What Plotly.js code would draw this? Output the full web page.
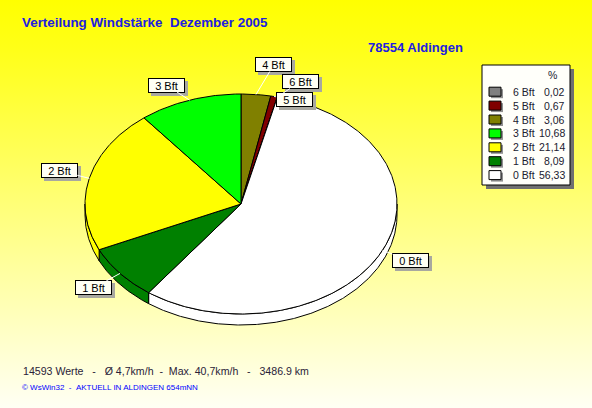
<!DOCTYPE html>
<html><head><meta charset="utf-8">
<script src="https://cdn.plot.ly/plotly-3.0.1.min.js"></script>
<style>
html,body{margin:0;padding:0;background:#fff;}
#chart{width:592px;height:408px;background:linear-gradient(to bottom,#FFFF00 0%,#FFFF18 12%,#FFFFF4 100%);}
</style></head><body><div id="chart"></div>
<script>
// ---- data ----
const categories = ['0 Bft','1 Bft','2 Bft','3 Bft','4 Bft','5 Bft','6 Bft'];
const percents = [56.33, 8.09, 21.14, 10.68, 3.06, 0.67, 0.02];
const sliceColors = ['#FFFFFF','#008000','#FFFF00','#00FF00','#808000','#800000','#808080'];
const pieOrder = [4,5,6,0,1,2,3]; // clockwise from 12 o'clock
const titleText = 'Verteilung Windstärke  Dezember 2005';
const stationText = '78554 Aldingen';
const footerLine1 = '14593 Werte   -   Ø 4,7km/h  -  Max. 40,7km/h   -   3486.9 km';
const footerLine2 = '© WsWin32  -  AKTUELL IN ALDINGEN 654mNN';
const legendHeader = '%';

// ---- layout helpers (positions/styles) ----
const W = 592, H = 408;
const FONT = 'Liberation Sans, Arial, sans-serif';
const P = x => x / W, Q = y => 1 - y / H;
const sp = s => s.replace(/ {2,}/g, m => ' ' + '\u00a0'.repeat(m.length - 1));
const RAD = Math.PI / 180;
const depth = 0.1;
// label pixel offsets from slice edge midpoint
const labelOffsets = {0:[28,10.5],1:[-26.5,14.5],2:[-30,-7.5],3:[-23.5,-15],4:[18,-30],5:[20,3],6:[23,-15.5]};

function arc(a0, a1) {
  const n = Math.max(2, Math.ceil((a1 - a0) / 0.5) + 1);
  const xs = [], ys = [];
  for (let k = 0; k < n; k++) {
    const a = a0 + (a1 - a0) * k / (n - 1);
    xs.push(Math.sin(a * RAD)); ys.push(Math.cos(a * RAD));
  }
  return [xs, ys];
}

const total = percents.reduce((a, b) => a + b, 0);
let start = 0;
const slices = [];
pieOrder.forEach(i => {
  const sweep = percents[i] / total * 360;
  slices.push({i, a0: start, a1: start + sweep});
  start += sweep;
});

const sideTraces = [], topTraces = [];
slices.forEach(s => {
  const b0 = Math.max(s.a0, 90), b1 = Math.min(s.a1, 270);
  if (b1 > b0) {
    const [xs, ys] = arc(b0, b1);
    const X = xs.concat(xs.slice().reverse());
    const Y = ys.concat(ys.slice().reverse().map(v => v - depth));
    X.push(X[0]); Y.push(Y[0]);
    sideTraces.push({type:'scatter', mode:'lines', x:X, y:Y, fill:'toself',
      fillcolor:sliceColors[s.i], line:{color:'#000', width:1}, hoverinfo:'skip', showlegend:false});
  }
  const [xs, ys] = arc(s.a0, s.a1);
  topTraces.push({type:'scatter', mode:'lines', x:[0].concat(xs, [0]), y:[0].concat(ys, [0]),
    fill:'toself', fillcolor:sliceColors[s.i], line:{color:'#000', width:1}, hoverinfo:'skip', showlegend:false});
});

const annotations = [], shapes = [];
// slice labels
const shadowAnn = [], labelAnn = [];
slices.forEach(s => {
  const mid = (s.a0 + s.a1) / 2;
  const x = Math.sin(mid * RAD), y = Math.cos(mid * RAD);
  const [ax, ay] = labelOffsets[s.i];
  const common = {x, y, xref:'x', yref:'y', width:33, height:11, borderpad:1, borderwidth:1,
    font:{family:FONT, size:11, color:'#000'}, align:'center', valign:'middle'};
  shadowAnn.push(Object.assign({}, common, {text:'\u00a0', showarrow:false,
    xanchor:'center', yanchor:'middle', xshift:ax + 3, yshift:-(ay + 3),
    bgcolor:'#A8A8A0', bordercolor:'#A8A8A0'}));
  labelAnn.push(Object.assign({}, common, {text:categories[s.i], showarrow:true, ax, ay,
    arrowcolor:'#FFFFFF', arrowwidth:1, arrowhead:0, standoff:0,
    bgcolor:'#FFFFF4', bordercolor:'#000'}));
});
annotations.push(...shadowAnn, ...labelAnn);

// station
annotations.push({text:'<b>' + stationText + '</b>', xref:'paper', yref:'paper', x:P(366), y:Q(47),
  xanchor:'left', yanchor:'middle', showarrow:false, font:{family:FONT, size:13, color:'#2020E0'}});
// footer
annotations.push({text:sp(footerLine1), xref:'paper', yref:'paper', x:P(21), y:Q(371),
  xanchor:'left', yanchor:'middle', showarrow:false, font:{family:FONT, size:10.6, color:'#2A2238'}});
annotations.push({text:sp(footerLine2), xref:'paper', yref:'paper', x:P(20), y:Q(387),
  xanchor:'left', yanchor:'middle', showarrow:false, font:{family:FONT, size:8, color:'#0000FF'}});

// legend box
shapes.push({type:'rect', xref:'paper', yref:'paper', x0:P(486), x1:P(574), y0:Q(69), y1:Q(189),
  fillcolor:'#707070', line:{width:0}});
shapes.push({type:'rect', xref:'paper', yref:'paper', x0:P(482), x1:P(570), y0:Q(65), y1:Q(185),
  fillcolor:'#FFFFFA', line:{color:'#000', width:1}});
annotations.push({text:legendHeader, xref:'paper', yref:'paper', x:P(552), y:Q(75),
  xanchor:'center', yanchor:'middle', showarrow:false, font:{family:FONT, size:10.5, color:'#202030'}});
for (let k = 0; k < categories.length; k++) {
  const i = categories.length - 1 - k;
  const ry = 91.7 + 13.9 * k;
  shapes.push({type:'rect', xref:'paper', yref:'paper', x0:P(491), x1:P(503), y0:Q(ry - 2.5), y1:Q(ry + 6.5),
    fillcolor:'#909090', line:{width:0}});
  shapes.push({type:'rect', xref:'paper', yref:'paper', x0:P(489), x1:P(501), y0:Q(ry - 4.5), y1:Q(ry + 4.5),
    fillcolor:sliceColors[i], line:{color:'#000', width:1}});
  annotations.push({text:categories[i], xref:'paper', yref:'paper', x:P(511), y:Q(ry),
    xanchor:'left', yanchor:'middle', showarrow:false, font:{family:FONT, size:10.5, color:'#202030'}});
  annotations.push({text:percents[i].toFixed(2).replace('.', ','), xref:'paper', yref:'paper', x:P(567), y:Q(ry),
    xanchor:'right', yanchor:'middle', showarrow:false, font:{family:FONT, size:10.5, color:'#202030'}});
}

const layout = {
  width:W, height:H, margin:{l:0, r:0, t:0, b:0, pad:0},
  paper_bgcolor:'rgba(0,0,0,0)', plot_bgcolor:'rgba(0,0,0,0)',
  title:{text:'<b>' + sp(titleText) + '</b>', x:P(22), xanchor:'left', y:Q(22), yanchor:'middle',
    xref:'container', yref:'container', font:{family:FONT, size:13.4, color:'#2020E0'}},
  xaxis:{range:[-1.5449, 2.25], visible:false, fixedrange:true},
  yaxis:{range:[-1.8545, 1.8545], visible:false, fixedrange:true},
  showlegend:false, annotations, shapes, hovermode:false
};
Plotly.newPlot('chart', sideTraces.concat(topTraces), layout, {displayModeBar:false, staticPlot:true});
</script></body></html>
